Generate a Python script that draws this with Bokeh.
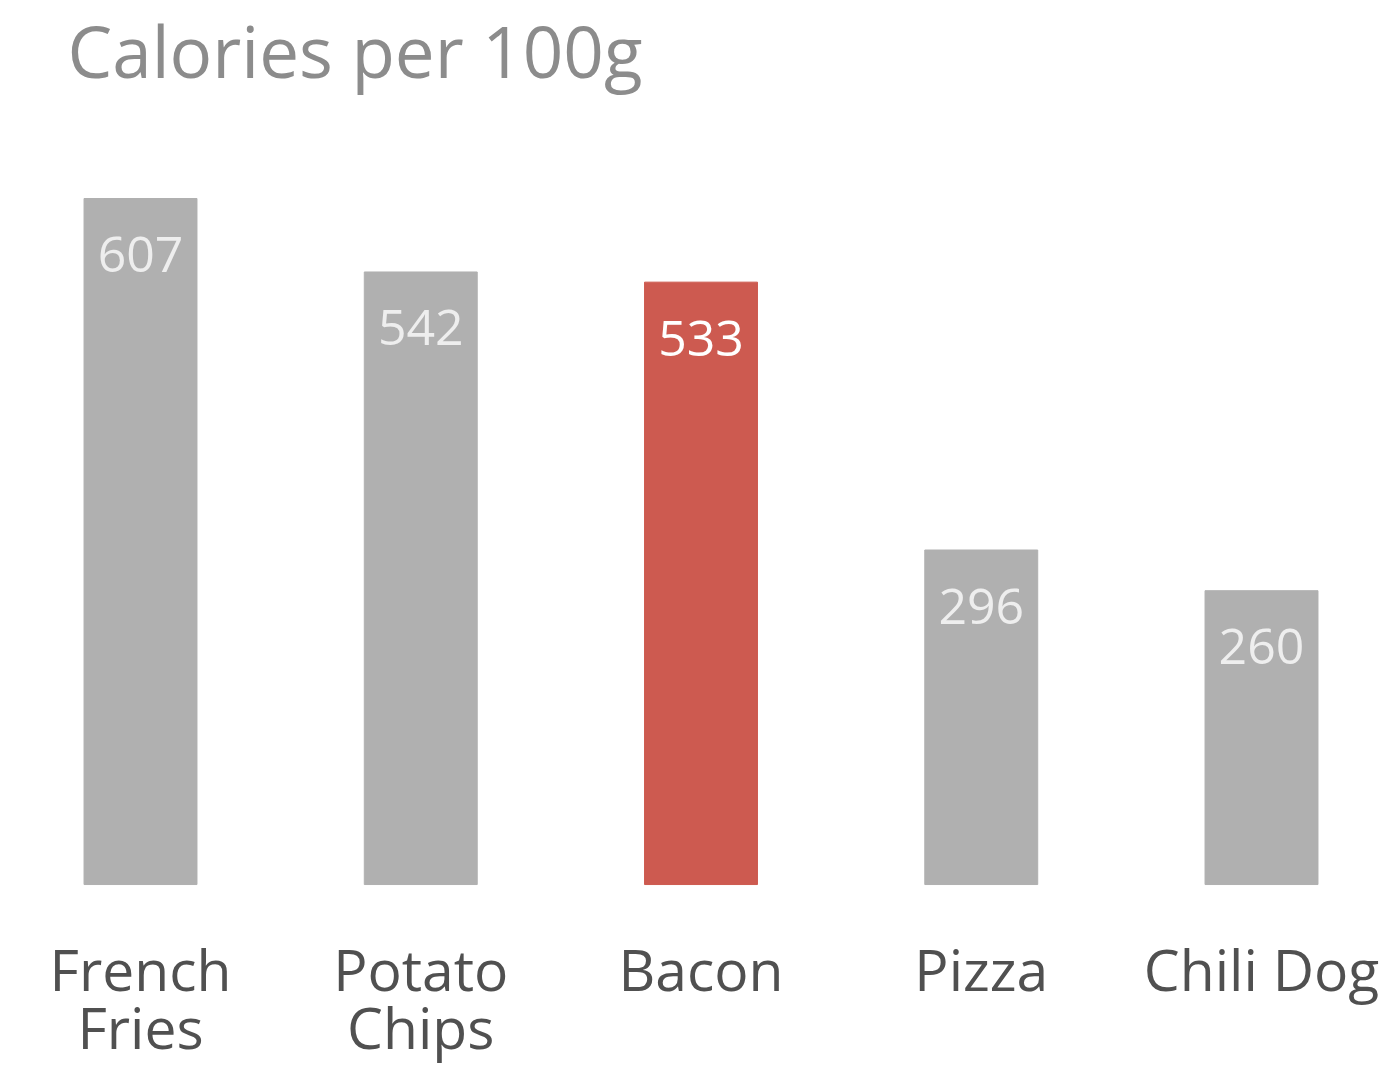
from bokeh.plotting import figure
from bokeh.models import Range1d, ColumnDataSource
from bokeh.core.properties import value
from bokeh.embed import file_html
from bokeh.resources import INLINE

categories = ["French\nFries", "Potato\nChips", "Bacon", "Pizza", "Chili Dog"]
calories = [607, 542, 533, 296, 260]
highlight = "Bacon"
title_text = "Calories per 100g"

GRAY = "#b0b0b0"
RED = "#cd5a50"
FONT = "Open Sans"

xs = list(range(len(categories)))
colors = [RED if c == highlight else GRAY for c in categories]
label_colors = ["#ffffff" if c == highlight else "#eeeeee" for c in categories]
line1 = [c.split("\n")[0] for c in categories]
line2 = [c.split("\n")[1] if "\n" in c else "" for c in categories]

src = ColumnDataSource(dict(x=xs, top=calories, color=colors,
                            lbl=[str(v) for v in calories], lcol=label_colors,
                            l1=line1, l2=line2))

W, H = 1383, 1066
p = figure(width=W, height=H, output_backend="svg", toolbar_location=None,
           x_range=Range1d(-0.4996, 4.4353), y_range=Range1d(-161.0, 782.2),
           min_border=0, outline_line_color=None, background_fill_color="white",
           border_fill_color="white")
p.axis.visible = False
p.grid.visible = False

p.vbar(x="x", top="top", bottom=0, width=0.403, color="color", source=src)

p.text(x="x", y="top", text="lbl", text_color="lcol", source=src,
       text_font=value(FONT), text_font_size="50px", text_align="center",
       text_baseline="alphabetic", y_offset=56)

p.text(x="x", y=-75.0, text="l1", text_color="#505050", source=src,
       text_font=value(FONT), text_font_size="57px", text_align="center",
       text_baseline="alphabetic")
p.text(x="x", y=-126.0, text="l2", text_color="#505050", source=src,
       text_font=value(FONT), text_font_size="57px", text_align="center",
       text_baseline="alphabetic")

p.text(x=[-0.2605], y=[738.0], text=[title_text], text_color="#8c8c8c",
       text_font=value(FONT), text_font_size="71px", text_align="left",
       text_baseline="alphabetic")

open("out.html", "w").write(file_html(p, INLINE))
